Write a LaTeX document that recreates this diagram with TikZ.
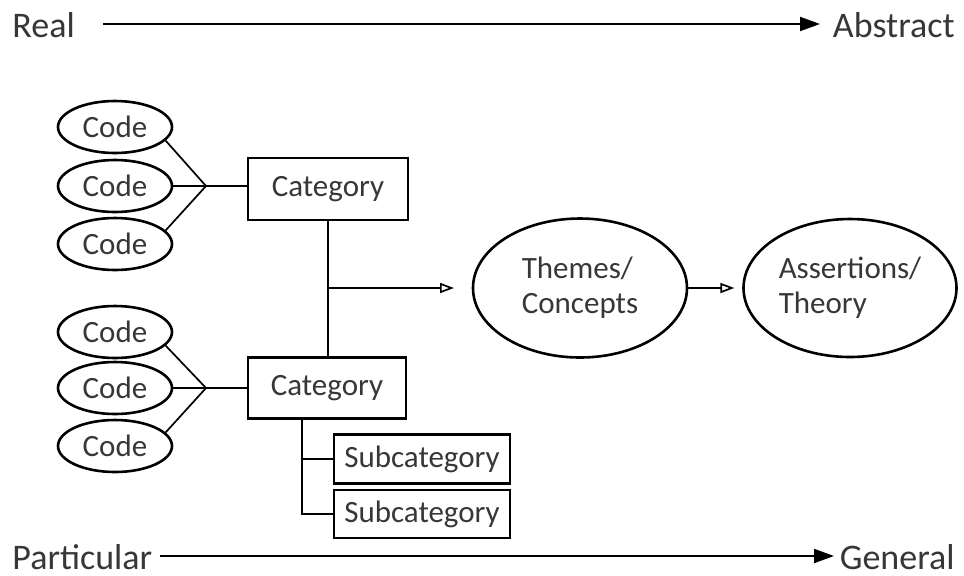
\documentclass[tikz,border=0pt]{standalone}
\usepackage{fontspec}
\setmainfont{Carlito}
\usepackage{xcolor}
\usepackage{tikz}
\usetikzlibrary{shapes, positioning, arrows.meta}
\definecolor{texto}{RGB}{55,55,55}

\begin{document}
\begin{tikzpicture}[x=0.5pt,y=-0.5pt,
        codigo/.style={draw, ellipse, line width=1.3pt, minimum width=57pt, minimum height=26pt, inner sep=0pt, text=texto, font=\fontsize{15.5}{18}\selectfont},
        caja/.style={draw, rectangle, line width=1.3pt, inner sep=0pt, text=texto, font=\fontsize{15.5}{18}\selectfont},
        nube/.style={draw, ellipse, line width=1.3pt, inner sep=0pt, inner xsep=-10pt, align=left, text=texto, font=\fontsize{15.5}{17.5}\selectfont},
        etiqueta/.style={text=texto, font=\fontsize{18}{22}\selectfont, inner sep=0pt},
        linea/.style={line width=0.85pt},
        eje/.style={line width=1pt, -{Triangle[length=10pt, width=7pt]}},
        flecha/.style={line width=0.85pt, -{Triangle[open, length=7pt, width=5pt]}}]
    \useasboundingbox (0,0) rectangle (964,575);
    % Ejes de arriba y de abajo
    \node[etiqueta, anchor=base west] (real) at (12,37) {Real};
    \node[etiqueta, anchor=base east] (abstracto) at (955,37) {Abstract};
    \node[etiqueta, anchor=base west] (particular) at (12,569) {Particular};
    \node[etiqueta, anchor=base east] (general) at (955,569) {General};
    \coordinate (ejeA) at (820,24);
    \coordinate (ejeB) at (834,556);
    \draw[eje] (103,24) -- (ejeA);
    \draw[eje] (160,556) -- (ejeB);
    % Codigos y categorias
    \foreach \i/\y in {1/127,2/186,3/244} {
        \node[codigo] (codA\i) at (115,\y) {Code};
    }
    \foreach \i/\y in {1/332,2/388,3/446} {
        \node[codigo] (codB\i) at (115,\y) {Code};
    }
    \node[caja, minimum width=80pt, minimum height=31pt] (catA) at (328,189) {Category};
    \node[caja, minimum width=79pt, minimum height=30.5pt] (catB) at (327,388) {Category};
    \node[caja, minimum width=88pt, minimum height=24.5pt] (subA) at (422,459) {Subcategory};
    \node[caja, minimum width=88pt, minimum height=24pt] (subB) at (422,514) {Subcategory};
    % Temas y teoria
    \node[nube, minimum width=107pt, minimum height=69.5pt] (temas) at (580,288) {Themes/\\Concepts};
    \node[nube, minimum width=106.5pt, minimum height=69pt] (teoria) at (850,288) {Assertions/\\Theory};
    % Uniones
    \coordinate (uA) at (206,186);
    \coordinate (uB) at (206,388);
    \draw[linea] (codA1.-15) -- (uA);
    \draw[linea] (codA2.east) -- (uA);
    \draw[linea] (codA3.15) -- (uA);
    \draw[linea] (uA) -- (uA -| catA.west);
    \draw[linea] (codB1.-15) -- (uB);
    \draw[linea] (codB2.east) -- (uB);
    \draw[linea] (codB3.15) -- (uB);
    \draw[linea] (uB) -- (uB -| catB.west);
    \draw[linea] (catA.south) -- (catA.south |- catB.north);
    \coordinate (rama) at (catA.south |- temas.west);
    \draw[flecha] (rama) -- (454,288);
    \draw[flecha] (temas.east) -- ++(46,0);
    \draw[linea] (302,419) -- (302,514) -- (subB.west);
    \draw[linea] (302,459) -- (subA.west);
\end{tikzpicture}
\end{document}
